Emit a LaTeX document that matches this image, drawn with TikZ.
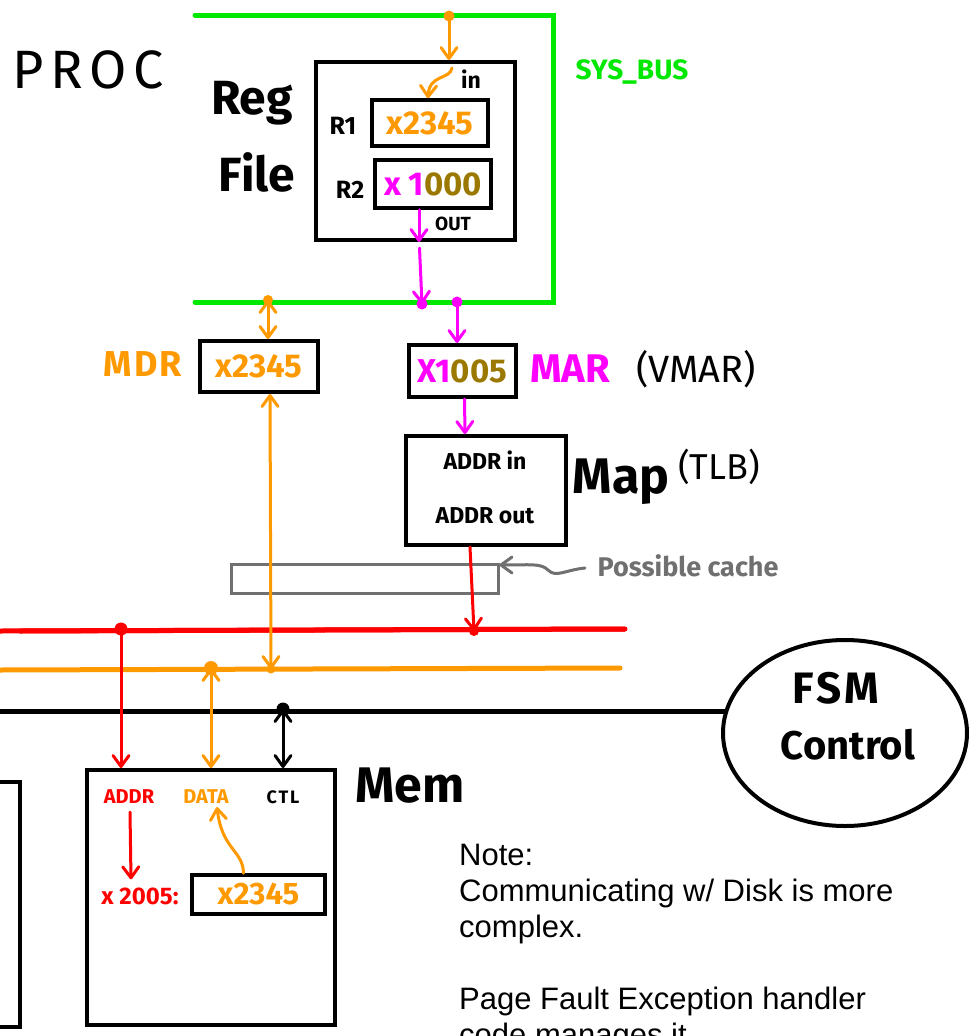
\documentclass[tikz,border=0pt]{standalone}
\usepackage{fontspec}
\setmainfont{Liberation Sans}
\newfontfamily\hand{Fira Sans}
\usetikzlibrary{arrows.meta,calc,shapes.geometric}
\definecolor{busgreen}{RGB}{0,232,0}
\definecolor{org}{RGB}{255,153,0}
\definecolor{mag}{RGB}{255,0,255}
\definecolor{rd}{RGB}{255,0,0}
\definecolor{olv}{RGB}{155,120,0}
\definecolor{gry}{RGB}{112,112,112}
\newcommand{\hsz}[1]{\fontsize{#1}{#1}\selectfont}
\tikzset{
  barb/.tip={Straight Barb[length=11pt,width=16pt,round]},
  conn/.style={line width=3pt,line cap=round},
  arr/.style={conn,-barb},
  darr/.style={conn,barb-barb},
  bus/.style={line width=5pt,line cap=round,line join=miter},
  box/.style={draw,line width=4pt,inner sep=0pt},
  reg/.style={draw,line width=3.5pt,inner sep=0pt},
  lbl/.style={inner sep=0pt},
  dot/.style={circle,fill,inner sep=0pt,minimum size=11pt},
}
\begin{document}
\begin{tikzpicture}[x=1pt,y=-1pt]
\useasboundingbox[fill=white] (0,0) rectangle (971,1036);

% ---------- processor ----------
\node[lbl,font=\hand\hsz{54}\addfontfeatures{LetterSpace=12}] (proc) at (88,70) {PROC};

% system bus
\coordinate (sbtl) at (195,15);
\coordinate (sbtr) at (553,15);
\coordinate (sbbr) at (553,302);
\coordinate (sbbl) at (195,302);
\draw[bus,busgreen] (sbtl) -- (sbtr) -- (sbbr) -- (sbbl);
\node[lbl,busgreen,font=\hand\bfseries\hsz{28}] (sysbus) at (632,72) {SYS\_BUS};

% register file
\node[box,minimum width=199pt,minimum height=178pt] (rf) at (415.5,151) {};
\node[lbl,font=\hand\bfseries\hsz{48}] (rfa) at (252,103) {Reg};
\node[lbl,font=\hand\bfseries\hsz{48}] (rfb) at (257,172) {File};
\node[lbl,font=\hand\bfseries\hsz{23}] (in) at (471,79) {in};
\node[lbl,font=\hand\bfseries\hsz{25}] (r1l) at (343,126) {R1};
\node[lbl,font=\hand\bfseries\hsz{25}] (r2l) at (350,190) {R2};
\node[reg,minimum width=116pt,minimum height=46pt] (r1) at (430,123) {};
\node[lbl,org,font=\hand\bfseries\hsz{33}] (r1v) at (r1) {x2345};
\node[reg,minimum width=116pt,minimum height=48pt] (r2) at (433,184) {};
\node[lbl,font=\hand\bfseries\hsz{33}] (r2v) at (r2) {\textcolor{mag}{x 1}\textcolor{olv}{000}};
\node[lbl,font=\hand\bfseries\hsz{19}] (out) at (453,224) {OUT};

% MDR and MAR
\node[lbl,org,font=\hand\bfseries\hsz{36}\addfontfeatures{LetterSpace=6}] (mdrl) at (143,364) {MDR};
\node[box,minimum width=118pt,minimum height=51pt] (mdr) at (259,366.5) {};
\node[lbl,org,font=\hand\bfseries\hsz{33}] (mdrv) at (mdr) {x2345};
\node[box,minimum width=107pt,minimum height=52pt] (mar) at (462.5,371) {};
\node[lbl,font=\hand\bfseries\hsz{33}] (marv) at (mar) {\textcolor{mag}{X1}\textcolor{olv}{005}};
\node[lbl,mag,font=\hand\bfseries\hsz{40}] (marl) at (570,369) {MAR};
\node[lbl,font=\hand\hsz{38}] (vmar) at (696,369) {(VMAR)};

% address map
\node[box,minimum width=160pt,minimum height=109pt] (map) at (486,490.5) {};
\node[lbl,font=\hand\bfseries\hsz{23}] (ain) at (485,460) {ADDR in};
\node[lbl,font=\hand\bfseries\hsz{23}] (aout) at (485,516) {ADDR out};
\node[lbl,font=\hand\bfseries\hsz{50}] (mapl) at (621,482) {Map};
\node[lbl,font=\hand\hsz{36}] (tlb) at (719,467) {(TLB)};

% cache placeholder
\node[draw=gry,line width=3pt,inner sep=0pt,minimum width=267pt,minimum height=29pt] (cache) at (364.5,578.5) {};
\node[lbl,gry,font=\hand\bfseries\hsz{27}] (cachel) at (688,566) {Possible cache};
\coordinate (cst) at (585,568);
\draw[arr,gry] (cst) .. controls (565,570) and (556,578) .. (548,570)
   .. controls (541,563) and (530,565) .. (cache.east |- 0,565);

% ---------- memory side buses ----------
\coordinate (rbl) at (0,631);
\coordinate (rbr) at (625,629);
\coordinate (obl) at (0,670);
\coordinate (obr) at (620,668);
\coordinate (kbl) at (0,711);
\draw[bus,rd,line cap=butt] (rbl) -- (rbr);
\draw[bus,rd] ($(rbl)+(20,0)$) -- (rbr);
\draw[bus,org] (obl) -- (obr);
\node[draw,ellipse,line width=4pt,minimum width=244pt,minimum height=186pt] (fsm) at (845,733) {};
\draw[bus,black,line cap=butt] (kbl) -- ($(fsm.west |- kbl)+(5,0)$);
\node[lbl,font=\hand\bfseries\hsz{44}\addfontfeatures{LetterSpace=8}] (fsma) at (836,688) {FSM};
\node[lbl,font=\hand\bfseries\hsz{40}] (fsmb) at (848,745) {Control};

% memory
\node[box,minimum width=248pt,minimum height=255pt] (mem) at (211,897.5) {};
\node[lbl,font=\hand\bfseries\hsz{50}] (meml) at (410,786) {Mem};
\node[lbl,rd,font=\hand\bfseries\hsz{20}] (maddr) at (129,797) {ADDR};
\node[lbl,org,font=\hand\bfseries\hsz{20}] (mdata) at (206,797) {DATA};
\node[lbl,font=\hand\bfseries\hsz{18}\addfontfeatures{LetterSpace=10}] (mctl) at (283,797) {CTL};
\node[lbl,rd,font=\hand\bfseries\hsz{24}] (maddrv) at (140,896) {x 2005:};
\node[reg,minimum width=133pt,minimum height=39pt] (cell) at (258.5,894.5) {};
\node[lbl,org,font=\hand\bfseries\hsz{31}] (cellv) at (cell) {x2345};

% disk edge (partly off the page)
\coordinate (dka) at (0,782);
\coordinate (dkb) at (20,782);
\coordinate (dkc) at (20,1027);
\coordinate (dkd) at (0,1027);
\draw[line width=4pt] (dka) -- (dkb) -- (dkc) -- (dkd);

% ---------- connectors ----------
% bus into register file
\node[dot,org] (tin) at (449,16) {};
\draw[arr,org] (tin.center) -- (tin.center |- rf.north);
\coordinate (inA) at (452,68);
\draw[arr,org] (inA) .. controls (450,80) and (429,74) .. ($(r1.north)+(-2,0)$);
% register file out to bus
\coordinate (ro) at ($(r2.south)+(-14,0)$);
\draw[arr,mag] (ro) -- (ro |- rf.south);
\coordinate (rob) at ($(rf.south)+(4,6)$);
\node[dot,mag] (tout) at (422,304) {};
\draw[arr,mag] (rob) -- (tout.center);
% bus to MAR
\node[dot,mag] (tmar) at (457,302) {};
\draw[arr,mag] (tmar.center) -- (tmar.center |- mar.north);
% bus to MDR
\node[dot,org,minimum size=10pt] (tmdr) at (268,300) {};
\draw[darr,org] (tmdr.center) -- (tmdr.center |- mdr.north);
% MDR to memory data bus
\node[dot,org,minimum size=9pt] (tmdb) at (271,669) {};
\draw[darr,org] ($(mdr.south)+(11,0)$) -- (tmdb.center);
% MAR to map
\draw[arr,mag] ($(mar.south)+(2,0)$) -- ($(map.north)+(-21,0)$);
% map to address bus
\node[dot,rd,minimum size=10pt] (tmab) at (474,631) {};
\draw[arr,rd] ($(map.south)+(-16,0)$) -- (tmab.center);
% buses to memory ports
\node[dot,rd,minimum size=13pt] (taddr) at (121,629) {};
\draw[arr,rd] (taddr.center) -- (taddr.center |- mem.north);
\node[dot,org,minimum size=14pt] (tdata) at (211,668) {};
\draw[darr,org] (tdata.center) -- (tdata.center |- mem.north);
\node[dot,black,minimum size=13pt] (tctl) at (283,709) {};
\draw[darr,black] (tctl.center) -- (tctl.center |- mem.north);
% inside memory
\draw[arr,rd] ($(maddr.south)+(1,8)$) -- ($(maddrv.north)+(-9,-8)$);
\draw[arr,org] ($(cell.north)+(-15,0)$) .. controls (243,850) and (222,850) .. ($(mdata.south)+(11,3)$);

% ---------- note ----------
\node[anchor=north west,inner sep=0pt,align=left,font=\hsz{31}] (note) at (459,844)
  {Note:\\[5pt]Communicating w/ Disk is more\\[5pt]complex.\\[5pt]\\[5pt]Page Fault Exception handler\\[5pt]code manages it.};
\end{tikzpicture}
\end{document}
